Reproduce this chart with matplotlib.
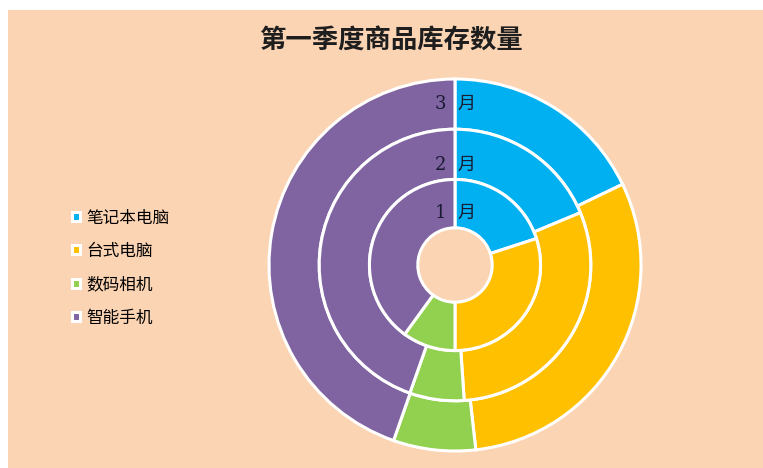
import matplotlib.pyplot as plt
from matplotlib import patches

plt.rcParams['font.family'] = ['Noto Sans CJK SC', 'DejaVu Sans']

title = '第一季度商品库存数量'
products = ['笔记本电脑', '台式电脑', '数码相机', '智能手机']
months = ['1 月', '2 月', '3 月']
# stock per month, one list per month (order follows products)
jan = [200, 300, 100, 400]
feb = [260, 420, 90, 620]
mar = [300, 510, 120, 750]
colors = ['#00B0F0', '#FFC000', '#92D050', '#8064A2']
bg = '#FBD4B4'


def plotDonut():
    fig = plt.figure(figsize=(7.63, 4.68), dpi=100)
    fig.patch.set_facecolor('white')
    # peach chart area, small white strip on top and left like the screenshot
    fig.patches.append(patches.Rectangle((8 / 763, 0), 1, 1 - 10 / 468,
                                         transform=fig.transFigure, facecolor=bg,
                                         edgecolor='none', zorder=-1))

    ax = fig.add_axes([(455 - 186) / 763, (468 - 265 - 186) / 468, 372 / 763, 372 / 468])

    rings = [(mar, 1.0, 0.27), (feb, 0.73, 0.27), (jan, 0.46, 0.26)]
    wedges = None
    for vals, r, w in rings:
        wd, _ = ax.pie(vals, radius=r, colors=colors, startangle=90, counterclock=False,
                       wedgeprops=dict(width=w, edgecolor='white', linewidth=2.2),
                       frame=True)
        if wedges is None:
            wedges = wd
    ax.set_xlim(-1, 1)
    ax.set_ylim(-1, 1)
    ax.set_aspect('equal')
    ax.axis('off')

    label_y = [0.28, 0.54, 0.865]
    for m, y in zip(months, label_y):
        ax.text(0.005, y, m.replace(' ', '  '), ha='center', va='center', fontsize=13,
                color='#1a1a33', family=['DejaVu Serif', 'Noto Sans CJK SC'])

    fig.text(391 / 763, 1 - 41 / 468, title, ha='center', va='center',
             fontsize=19, fontweight='bold', color='#1e1e1e')

    fig.legend(wedges, products, loc='center left', bbox_to_anchor=(64 / 763, 1 - 268 / 468),
               frameon=False, fontsize=12, handlelength=0.45, handleheight=0.45,
               handletextpad=0.4, labelspacing=0.98, borderpad=0)

    fig.savefig('out.png', dpi=100, facecolor=fig.get_facecolor())


if __name__ == '__main__':
    plotDonut()
